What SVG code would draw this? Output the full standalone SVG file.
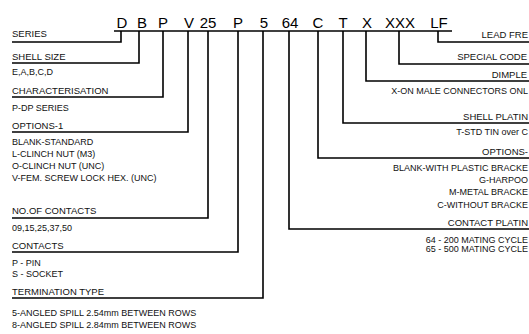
<svg xmlns="http://www.w3.org/2000/svg" width="529" height="334" viewBox="0 0 529 334">
<style>
.code{font-family:"Liberation Sans",Arial,sans-serif;font-size:15px;fill:#000;text-anchor:middle}
.h{font-family:"Liberation Sans",Arial,sans-serif;font-size:9.5px;fill:#111}
.d{font-family:"Liberation Sans",Arial,sans-serif;font-size:9px;fill:#111}
.r{text-anchor:end}
.ln{fill:none;stroke:#000;stroke-width:1.6}
</style>
<rect width="529" height="334" fill="#fff"/>
<g id="code">
<text class="code" x="122" y="28">D</text>
<text class="code" x="142" y="28">B</text>
<text class="code" x="163" y="28">P</text>
<text class="code" x="189" y="28">V</text>
<text class="code" x="208" y="28">25</text>
<text class="code" x="238" y="28">P</text>
<text class="code" x="264" y="28">5</text>
<text class="code" x="290" y="28">64</text>
<text class="code" x="318" y="28">C</text>
<text class="code" x="343" y="28">T</text>
<text class="code" x="367" y="28">X</text>
<text class="code" x="400" y="28">XXX</text>
<text class="code" x="439" y="28">LF</text>
</g>
<g id="connectors">
<path class="ln" d="M114,31 H452"/>
<path class="ln" d="M121,31 V42 H12"/>
<path class="ln" d="M139,31 V63 H12"/>
<path class="ln" d="M163,31 V97 H12"/>
<path class="ln" d="M188,31 V132 H12"/>
<path class="ln" d="M208,31 V218 H12"/>
<path class="ln" d="M238,31 V252 H12"/>
<path class="ln" d="M263,31 V298 H12"/>
<path class="ln" d="M289,31 V229 H529"/>
<path class="ln" d="M318,31 V158 H529"/>
<path class="ln" d="M343,31 V123 H529"/>
<path class="ln" d="M366,31 V81 H529"/>
<path class="ln" d="M399,31 V64 H529"/>
<path class="ln" d="M438,31 V42 H529"/>
</g>
<g id="series"><text class="h" x="12" y="37">SERIES</text></g>
<g id="shell-size"><text class="h" x="12" y="60">SHELL SIZE</text><text class="d" x="12" y="75">E,A,B,C,D</text></g>
<g id="characterisation"><text class="h" x="12" y="94">CHARACTERISATION</text><text class="d" x="12" y="111">P-DP SERIES</text></g>
<g id="options-1"><text class="h" x="12" y="129">OPTIONS-1</text>
<text class="d" x="12" y="145">BLANK-STANDARD</text>
<text class="d" x="12" y="157">L-CLINCH NUT (M3)</text>
<text class="d" x="12" y="169">O-CLINCH NUT (UNC)</text>
<text class="d" x="12" y="181">V-FEM. SCREW LOCK HEX. (UNC)</text></g>
<g id="contacts-no"><text class="h" x="12" y="214">NO.OF CONTACTS</text><text class="d" x="12" y="231">09,15,25,37,50</text></g>
<g id="contacts"><text class="h" x="12" y="249">CONTACTS</text><text class="d" x="12" y="266">P - PIN</text><text class="d" x="12" y="277">S - SOCKET</text></g>
<g id="termination"><text class="h" x="12" y="295">TERMINATION TYPE</text>
<text class="d" x="12" y="316">5-ANGLED SPILL 2.54mm BETWEEN ROWS</text>
<text class="d" x="12" y="328">8-ANGLED SPILL 2.84mm BETWEEN ROWS</text></g>
<g id="lead-free"><text class="h r" x="528" y="38">LEAD FRE</text></g>
<g id="special-code"><text class="h r" x="527" y="60">SPECIAL CODE</text></g>
<g id="dimple"><text class="h r" x="527" y="78">DIMPLE</text><text class="d r" x="528" y="94">X-ON MALE CONNECTORS ONL</text></g>
<g id="shell-plating"><text class="h r" x="528" y="120">SHELL PLATIN</text><text class="d r" x="528" y="135">T-STD TIN over C</text></g>
<g id="options-2"><text class="h r" x="528" y="155">OPTIONS-</text>
<text class="d r" x="528" y="171">BLANK-WITH PLASTIC BRACKE</text>
<text class="d r" x="528" y="183">G-HARPOO</text>
<text class="d r" x="528" y="195">M-METAL BRACKE</text>
<text class="d r" x="528" y="208">C-WITHOUT BRACKE</text></g>
<g id="contact-plating"><text class="h r" x="528" y="226">CONTACT PLATIN</text>
<text class="d r" x="528" y="243">64 - 200 MATING CYCLE</text>
<text class="d r" x="528" y="252">65 - 500 MATING CYCLE</text></g>
</svg>
